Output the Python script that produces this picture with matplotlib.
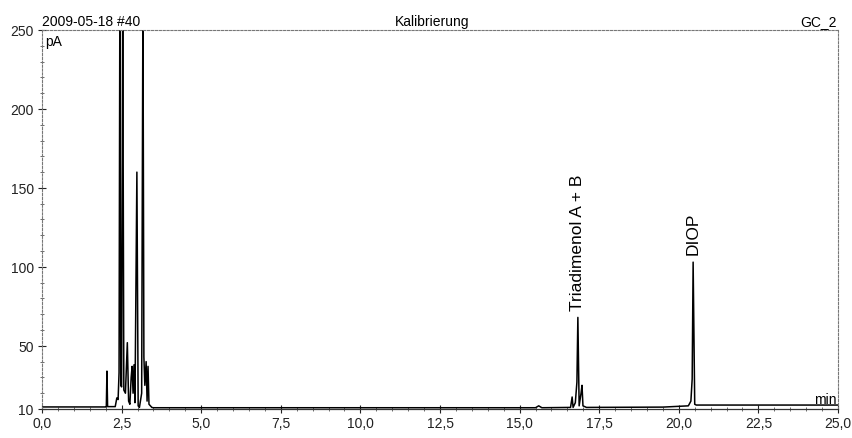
import matplotlib
matplotlib.use("Agg")
import matplotlib.pyplot as plt
from matplotlib.ticker import MultipleLocator

plt.rcParams['font.family'] = ['Liberation Sans', 'DejaVu Sans']

# Chromatogram trace (time in min, signal in pA)
time_min = [0.0, 2.00, 2.02, 2.04, 2.06, 2.30, 2.35, 2.39, 2.42, 2.445, 2.475,
            2.50, 2.535, 2.57, 2.62, 2.68, 2.72, 2.76, 2.80, 2.83, 2.86, 2.89, 2.92,
            2.98, 3.02, 3.06, 3.13, 3.17, 3.20, 3.23, 3.27, 3.30, 3.33, 3.36,
            3.45, 3.50, 15.50, 15.60, 15.70, 16.60, 16.65, 16.68, 16.75, 16.80,
            16.83, 16.87, 16.93, 16.96, 16.99, 17.10, 19.50, 20.30, 20.38,
            20.42, 20.45, 20.50, 20.55, 25.0]
signal_pa = [11.3, 11.3, 11.3, 34, 11.5, 11.5, 17, 16, 33, 270, 25,
             24, 270, 22, 20, 52, 15, 13, 30, 37, 20, 38, 14,
             160, 12, 11, 20, 270, 43, 25, 40, 15, 37, 13,
             11, 10.8, 10.8, 12, 10.8, 11, 17.6, 11, 14, 27,
             68, 12, 20, 25, 12, 11, 11.2, 12, 15,
             29, 103, 13, 12.5, 12.5]

x_ticks = [0.0, 2.5, 5.0, 7.5, 10.0, 12.5, 15.0, 17.5, 20.0, 22.5, 25.0]
x_labels = ["0,0", "2,5", "5,0", "7,5", "10,0", "12,5", "15,0", "17,5", "20,0", "22,5", "25,0"]
y_ticks = [10, 50, 100, 150, 200, 250]
y_labels = ["10", "50", "100", "150", "200", "250"]

peak_names = ["Triadimenol A + B", "DIOP"]
peak_times = [16.83, 20.45]
peak_label_y = [73, 108]

fig = plt.figure(figsize=(8.52, 4.39), dpi=100)
ax = fig.add_axes([42/852, 1 - 410/439, (838-42)/852, (410-31)/439])

ax.plot(time_min, signal_pa, color='black', lw=1.1, clip_on=True)

ax.set_xlim(0, 25)
ax.set_ylim(10, 250)
ax.set_xticks(x_ticks)
ax.set_xticklabels(x_labels)
ax.set_yticks(y_ticks)
ax.set_yticklabels(y_labels)
ax.xaxis.set_minor_locator(MultipleLocator(0.5))
ax.yaxis.set_minor_locator(MultipleLocator(10))
ax.tick_params(axis='both', which='major', direction='inout', length=6, width=0.8,
               labelsize=10, colors='#222222')
ax.tick_params(axis='both', which='minor', direction='inout', length=3, width=0.6,
               color='#555555')
ax.tick_params(axis='x', pad=2)
ax.tick_params(axis='y', pad=3)

for side in ['left', 'top', 'right']:
    ax.spines[side].set_linestyle((0, (2, 1.5)))
    ax.spines[side].set_color('#777777')
    ax.spines[side].set_linewidth(0.8)
ax.spines['bottom'].set_color('#333333')
ax.spines['bottom'].set_linewidth(0.9)

for name, t, yl in zip(peak_names, peak_times, peak_label_y):
    ax.text(t, yl, name, rotation=90, ha='center', va='bottom', fontsize=12.5)

ax.text(0.0, 1.005, "2009-05-18 #40", transform=ax.transAxes, ha='left', va='bottom', fontsize=10)
ax.text(0.49, 1.005, "Kalibrierung", transform=ax.transAxes, ha='center', va='bottom', fontsize=10)
ax.text(0.998, 1.005, "GC_2", transform=ax.transAxes, ha='right', va='bottom', fontsize=10)
ax.text(0.004, 0.99, "pA", transform=ax.transAxes, ha='left', va='top', fontsize=10)
ax.text(0.998, 0.008, "min", transform=ax.transAxes, ha='right', va='bottom', fontsize=10)

fig.savefig("out.png", dpi=100)
